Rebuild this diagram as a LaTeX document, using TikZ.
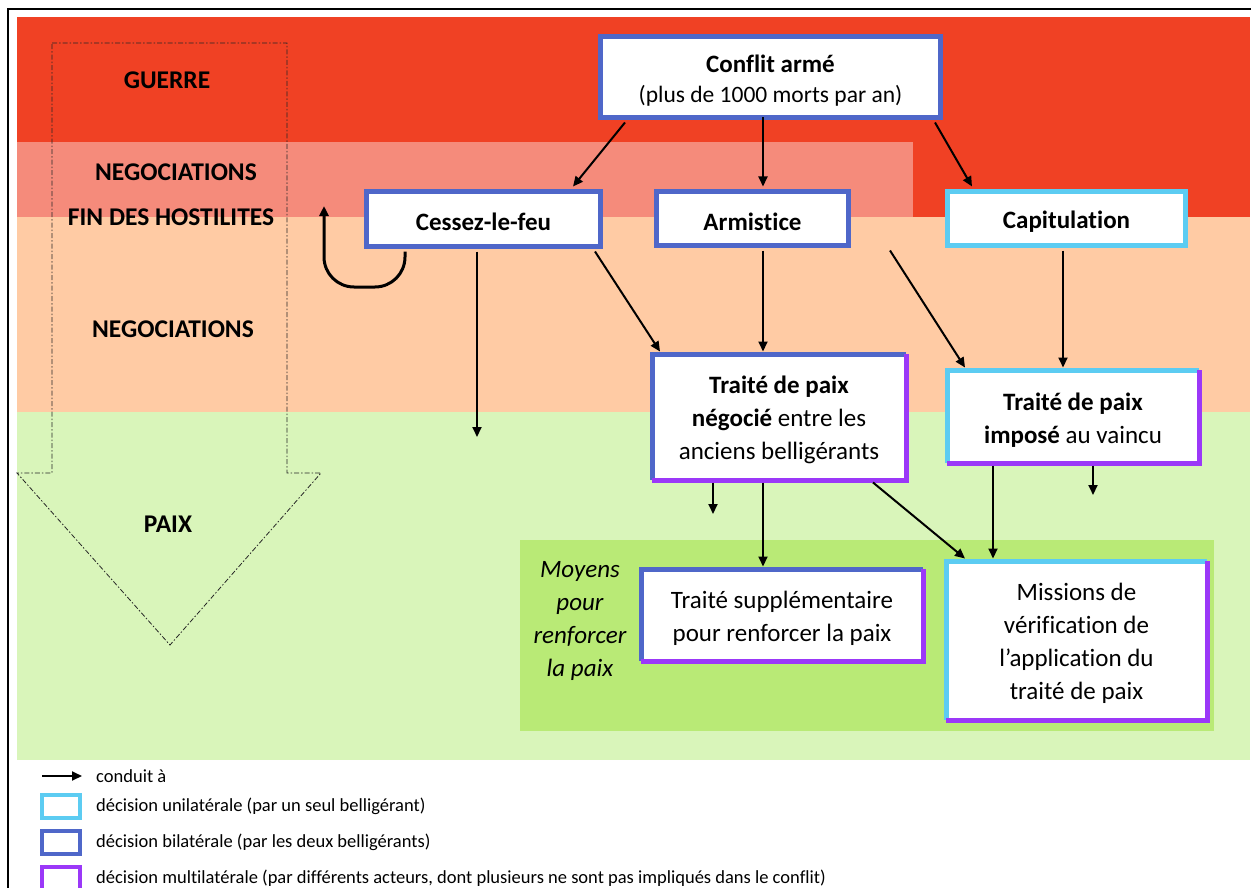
\documentclass[tikz,border=0pt]{standalone}
\usepackage{fontspec}
\setmainfont{Carlito}[Ligatures=NoCommon]
\usetikzlibrary{arrows.meta,calc}
\definecolor{cRed}{HTML}{F04124}
\definecolor{cSalmon}{HTML}{F58B7B}
\definecolor{cPeach}{HTML}{FFCBA4}
\definecolor{cLGreen}{HTML}{D9F5BA}
\definecolor{cDGreen}{HTML}{B9EA76}
\definecolor{cBlue}{HTML}{4F67C9}
\definecolor{cCyan}{HTML}{5CCCF2}
\definecolor{cPurple}{HTML}{9B38F8}
\newcommand{\toppad}{\rule{0pt}{24pt}}
\begin{document}
\begin{tikzpicture}[x=1pt,y=-1pt,
  box/.style={fill=white, line width=5pt, align=center, inner sep=0pt, font=\fontsize{25}{33}\selectfont},
  bil/.style={box, draw=cBlue},
  uni/.style={box, draw=cCyan},
  edgeblue/.style={draw=cBlue, line width=5pt, line cap=square},
  edgecyan/.style={draw=cCyan, line width=5pt, line cap=square},
  edgepurple/.style={draw=cPurple, line width=5pt, line cap=square},
  arr/.style={-{Triangle[length=10pt,width=9pt]}, line width=2pt},
  lab/.style={font=\fontsize{25.5}{29}\selectfont\bfseries, inner sep=0pt},
  leg/.style={font=\fontsize{18.5}{20}\selectfont, anchor=west, inner sep=0pt},
  legbox/.style={draw=#1, line width=4pt, fill=white, minimum width=38pt, minimum height=23pt, inner sep=0pt},
  bigarrow/.style={draw=black!85, line width=0.8pt, dash pattern=on 5pt off 2pt on 1.5pt off 2pt},
]
\useasboundingbox (0,0) rectangle (1251,888);
\fill[white] (0,0) rectangle (1251,888);
% bands
\fill[cRed] (17,17) rectangle (1250,142);
\fill[cSalmon] (17,142) rectangle (913,217);
\fill[cRed] (913,142) rectangle (1250,217);
\fill[cPeach] (17,217) rectangle (1250,412);
\fill[cLGreen] (17,412) rectangle (1250,760);
\fill[cDGreen] (520,540) rectangle (1214,731);
% frame
\draw[line width=2pt] (8,888) -- (8,9.5) -- (1251,9.5);
% big dashed arrow
\draw[bigarrow] (52,43) -- (287,43) -- (287,473) -- (321,473) -- (170,645) -- (17,473) -- (52,473) -- cycle;
% left labels
\node[lab] (guerre) at (167,80) {GUERRE};
\node[lab] (nego1) at (176,172) {NEGOCIATIONS};
\node[lab] (fin) at (171,217) {FIN DES HOSTILITES};
\node[lab] (nego2) at (173,329) {NEGOCIATIONS};
\node[lab] (paix) at (168,524) {PAIX};
\node[font=\fontsize{25}{33}\selectfont\itshape, align=center, inner sep=0pt] (moyens) at (580,621) {Moyens\\pour\\renforcer\\la paix};
% boxes
\node[bil, minimum width=340pt, minimum height=81pt, font=\fontsize{25}{30}\selectfont] (conflit) at (770.5,77) {\toppad\textbf{Conflit armé}\\{\fontsize{23.5}{30}\selectfont(plus de 1000 morts par an)}};
\node[bil, minimum width=234pt, minimum height=55pt] (cessez) at (483.5,219) {\toppad\textbf{Cessez-le-feu}};
\node[bil, minimum width=192pt, minimum height=54pt] (armistice) at (752.5,218.5) {\toppad\textbf{Armistice}};
\node[uni, minimum width=238pt, minimum height=54pt] (capit) at (1066.5,218.5) {\toppad\textbf{Capitulation}};
\node[box, minimum width=249pt, minimum height=121pt] (negocie) at (779,417) {\toppad\textbf{Traité de paix}\\\textbf{négocié} entre les\\anciens belligérants};
\draw[edgeblue] (negocie.south west) -- (negocie.north west) -- (negocie.north east);
\draw[edgepurple] (negocie.north east) -- (negocie.south east) -- (negocie.south west);
\node[box, minimum width=247pt, minimum height=88pt] (impose) at (1073,416.5) {\toppad\textbf{Traité de paix}\\\textbf{imposé} au vaincu};
\draw[edgecyan] (impose.south west) -- (impose.north west) -- (impose.north east);
\draw[edgepurple] (impose.north east) -- (impose.south east) -- (impose.south west);
\node[box, minimum width=277pt, minimum height=87pt] (supp) at (782,615) {\toppad Traité supplémentaire\\pour renforcer la paix};
\draw[edgeblue] (supp.south west) -- (supp.north west) -- (supp.north east);
\draw[edgepurple] (supp.north east) -- (supp.south east) -- (supp.south west);
\node[box, minimum width=256pt, minimum height=154pt] (missions) at (1076.5,640.5) {\toppad Missions de\\vérification de\\l’application du\\traité de paix};
\draw[edgecyan] (missions.south west) -- (missions.north west) -- (missions.north east);
\draw[edgepurple] (missions.north east) -- (missions.south east) -- (missions.south west);
% free ends
\coordinate (ubot) at (324,287);
\coordinate (uend) at (324,206);
\coordinate (cdown) at (477,437);
\coordinate (ndown) at (713,514);
\coordinate (idown) at (1093,495);
% arrows
\draw[arr] ([xshift=-145.5pt,yshift=-2.5pt]conflit.south) -- ([xshift=89.5pt,yshift=2.5pt]cessez.north);
\draw[arr] ([xshift=10.5pt,yshift=2.5pt]armistice.north |- conflit.south) -- ([xshift=10.5pt,yshift=2.5pt]armistice.north);
\draw[arr] ([xshift=164.5pt,yshift=-2.5pt]conflit.south) -- ([xshift=-94.5pt,yshift=2.5pt]capit.north);
\draw[arr, line width=3pt, rounded corners=30pt] ([xshift=-78.5pt,yshift=-2.5pt]cessez.south) |- (ubot) -- (uend);
\draw[arr] ([xshift=-6.5pt,yshift=-2.5pt]cessez.south) -- (cdown);
\draw[arr] ([xshift=111.5pt,yshift=-2.5pt]cessez.south) -- ([xshift=-119pt,yshift=2.5pt]negocie.north);
\draw[arr] ([xshift=10.5pt,yshift=-2.5pt]armistice.south) -- ([xshift=-16pt,yshift=2.5pt]negocie.north);
\draw[arr] ([xshift=137.5pt,yshift=-2.5pt]armistice.south) -- ([xshift=-108pt,yshift=2.5pt]impose.north);
\draw[arr] ([xshift=-3.5pt,yshift=-2.5pt]capit.south) -- ([xshift=-10pt,yshift=2.5pt]impose.north);
\draw[arr] ([xshift=-66pt,yshift=-2.5pt]negocie.south) -- (ndown);
\draw[arr] ([xshift=-16pt,yshift=-2.5pt]negocie.south) -- ([xshift=-19pt,yshift=2.5pt]supp.north);
\draw[arr] ([xshift=94pt,yshift=-2.5pt]negocie.south) -- ([xshift=-111.5pt,yshift=2.5pt]missions.north);
\draw[arr] ([xshift=-80pt,yshift=-2.5pt]impose.south) -- ([xshift=-83.5pt,yshift=2.5pt]missions.north);
\draw[arr] ([xshift=20pt,yshift=-2.5pt]impose.south) -- (idown);
% legend
\coordinate (la) at (42,776);
\coordinate (lb) at (82,776);
\draw[arr] (la) -- (lb);
\node[leg] (l1) at (96,776) {conduit à};
\node[legbox=cCyan] (s1) at (61,806) {};
\node[leg] (l2) at (96,806) {décision unilatérale (par un seul belligérant)};
\node[legbox=cBlue] (s2) at (61,842) {};
\node[leg] (l3) at (96,842) {décision bilatérale (par les deux belligérants)};
\node[legbox=cPurple] (s3) at (61,878) {};
\node[leg] (l4) at (96,878) {décision multilatérale (par différents acteurs, dont plusieurs ne sont pas impliqués dans le conflit)};
\end{tikzpicture}
\end{document}
